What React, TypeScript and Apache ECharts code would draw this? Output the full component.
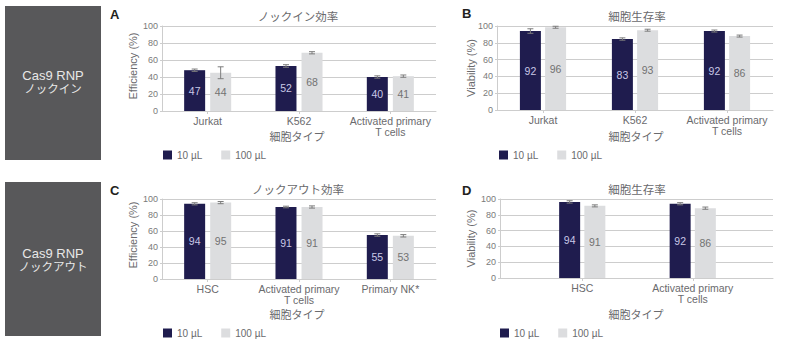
import React, { useEffect, useRef } from "react";
import * as echarts from "echarts";

const FONT = '"Liberation Sans", "Noto Sans CJK JP", sans-serif';

// Panel A: knock-in efficiency
const catsA = ["Jurkat", "K562", "Activated primary\nT cells"];
const meanA10 = [48, 53, 40];
const meanA100 = [45, 68.5, 41];
const labelA10 = [47, 52, 40];
const labelA100 = [44, 68, 41];
const errA10 = [0.4, 1.5, 0.4];
const errA100 = [7, 1.3, 0.4];

// Panel B: viability (knock-in)
const catsB = ["Jurkat", "K562", "Activated primary\nT cells"];
const meanB10 = [94, 84.5, 94];
const meanB100 = [98.5, 95, 88];
const labelB10 = [92, 83, 92];
const labelB100 = [96, 93, 86];
const errB10 = [2.7, 1.4, 0.6];
const errB100 = [0.6, 0.6, 0.6];

// Panel C: knock-out efficiency
const catsC = ["HSC", "Activated primary\nT cells", "Primary NK*"];
const meanC10 = [94, 90, 55];
const meanC100 = [95.5, 90, 54];
const labelC10 = [94, 91, 55];
const labelC100 = [95, 91, 53];
const errC10 = [0.5, 1, 1.5];
const errC100 = [0.5, 0.5, 1.5];

// Panel D: viability (knock-out)
const catsD = ["HSC", "Activated primary\nT cells"];
const meanD10 = [96.3, 94];
const meanD100 = [91.3, 88.4];
const labelD10 = [94, 92];
const labelD100 = [91, 86];
const errD10 = [0.4, 0.5];
const errD100 = [0.6, 0.5];

const SERIES_NAMES = ["10 µL", "100 µL"];
const DARK = "#1f1c4e";
const LIGHT = "#dcdddf";
const GRID_LINE = "#cdcdcd";
const TEXT = "#6a6a6d";
const BAR_W = 21;

function barSeries(name: string, idx: number, means: number[], labels: number[], color: string, labelColor: string, gap: string) {
  return {
    type: "bar",
    name,
    xAxisIndex: idx,
    yAxisIndex: idx,
    data: means,
    barWidth: BAR_W,
    barGap: gap,
    itemStyle: { color },
    label: {
      show: true,
      position: "inside",
      color: labelColor,
      fontSize: 10.5,
      fontFamily: FONT,
      formatter: (p: any) => String(labels[p.dataIndex]),
    },
    z: 2,
  };
}

function errSeries(idx: number, means: number[], errs: number[], side: number, gapPx: number) {
  const off = side * (BAR_W + gapPx) / 2;
  return {
    type: "custom",
    name: "err" + idx + "_" + side,
    xAxisIndex: idx,
    yAxisIndex: idx,
    data: means.map((m, i) => [i, m, errs[i]]),
    clip: false,
    z: 5,
    renderItem: (params: any, api: any) => {
      const cat = api.value(0);
      const m = api.value(1);
      const e = api.value(2);
      const top = api.coord([cat, m + e]);
      const bot = api.coord([cat, m - e]);
      const x = top[0] + off;
      const hw = 3;
      const st = { stroke: "#7d7d7d", lineWidth: 1 };
      const y1 = Math.min(top[1], bot[1] - 1.5);
      const y2 = Math.max(bot[1], top[1] + 1.5);
      return {
        type: "group",
        children: [
          { type: "line", shape: { x1: x, y1, x2: x, y2 }, style: st },
          { type: "line", shape: { x1: x - hw, y1, x2: x + hw, y2: y1 }, style: st },
          { type: "line", shape: { x1: x - hw, y1: y2, x2: x + hw, y2 }, style: st },
        ],
      };
    },
  };
}

function xAx(gridIndex: number, data: string[], showLabels = true) {
  return {
    type: "category",
    gridIndex,
    data,
    axisLine: { show: true, lineStyle: { color: GRID_LINE } },
    axisTick: { show: showLabels, alignWithLabel: true, length: 3, lineStyle: { color: GRID_LINE } },
    axisLabel: { show: showLabels, interval: 0, fontSize: 10.5, color: TEXT, margin: 4, lineHeight: 11.5, fontFamily: FONT },
  };
}

function yAx(gridIndex: number, show = true) {
  return {
    type: "value",
    gridIndex,
    min: 0,
    max: 100,
    interval: 20,
    show,
    axisLine: { show: true, lineStyle: { color: GRID_LINE } },
    axisTick: { show: true, length: 2, lineStyle: { color: GRID_LINE } },
    axisLabel: { fontSize: 9, color: "#7a7a7a", margin: 4, fontFamily: FONT },
    splitLine: { show: true, lineStyle: { color: GRID_LINE } },
  };
}

function txt(text: string, x: number, y: number, fontSize: number, color: string, extra: any = {}) {
  return {
    type: "text",
    x,
    y,
    silent: true,
    ...extra,
    style: {
      text,
      fontSize,
      fill: color,
      fontFamily: FONT,
      textAlign: "center",
      textVerticalAlign: "middle",
      ...(extra.style || {}),
    },
  };
}

function legend(left: number, top: number) {
  return {
    left,
    top,
    padding: 0,
    itemWidth: 9,
    itemHeight: 9,
    itemGap: 19,
    icon: "rect",
    data: SERIES_NAMES,
    textStyle: { fontSize: 10, color: TEXT, fontFamily: FONT, lineHeight: 12 },
  };
}

export default function App() {
  const ref = useRef<HTMLDivElement>(null);
  useEffect(() => {
    if (!ref.current) return;
    const chart = echarts.init(ref.current, undefined, { renderer: "svg" });
    const rot = Math.PI / 2;
    chart.setOption({
      animation: false,
      backgroundColor: "#ffffff",
      grid: [
        { left: 162, top: 26, width: 274, height: 85 },
        { left: 497, top: 26, width: 276, height: 84 },
        { left: 162, top: 199, width: 274, height: 80 },
        { left: 500, top: 199, width: 273, height: 79 },
        { left: 527, top: 199, width: 221, height: 79 },
      ],
      xAxis: [
        xAx(0, catsA),
        xAx(1, catsB),
        xAx(2, catsC),
        xAx(3, [""], false),
        xAx(4, catsD),
      ],
      yAxis: [yAx(0), yAx(1), yAx(2), yAx(3), yAx(4, false)],
      legend: [legend(163, 149), legend(499, 149), legend(163, 327), legend(500, 327)],
      series: [
        barSeries(SERIES_NAMES[0], 0, meanA10, labelA10, DARK, "#c9c8e6", "24%"),
        barSeries(SERIES_NAMES[1], 0, meanA100, labelA100, LIGHT, "#727272", "24%"),
        errSeries(0, meanA10, errA10, -1, 5),
        errSeries(0, meanA100, errA100, 1, 5),
        barSeries(SERIES_NAMES[0], 1, meanB10, labelB10, DARK, "#c9c8e6", "20%"),
        barSeries(SERIES_NAMES[1], 1, meanB100, labelB100, LIGHT, "#727272", "20%"),
        errSeries(1, meanB10, errB10, -1, 4.2),
        errSeries(1, meanB100, errB100, 1, 4.2),
        barSeries(SERIES_NAMES[0], 2, meanC10, labelC10, DARK, "#c9c8e6", "24%"),
        barSeries(SERIES_NAMES[1], 2, meanC100, labelC100, LIGHT, "#727272", "24%"),
        errSeries(2, meanC10, errC10, -1, 5),
        errSeries(2, meanC100, errC100, 1, 5),
        barSeries(SERIES_NAMES[0], 4, meanD10, labelD10, DARK, "#c9c8e6", "20%"),
        barSeries(SERIES_NAMES[1], 4, meanD100, labelD100, LIGHT, "#727272", "20%"),
        errSeries(4, meanD10, errD10, -1, 4.2),
        errSeries(4, meanD100, errD100, 1, 4.2),
      ],
      graphic: [
        { type: "rect", shape: { x: 5, y: 6, width: 96, height: 154 }, style: { fill: "#58585a" }, silent: true },
        { type: "rect", shape: { x: 5, y: 182, width: 96, height: 154 }, style: { fill: "#58585a" }, silent: true },
        txt("Cas9 RNP", 53, 75.5, 13, "#e8e8e8"),
        txt("ノックイン", 53, 88.5, 11.5, "#e8e8e8"),
        txt("Cas9 RNP", 53, 253.5, 13, "#e8e8e8"),
        txt("ノックアウト", 53, 266.5, 11.5, "#e8e8e8"),
        txt("A", 110, 14, 13, "#231f20", { style: { textAlign: "left", fontWeight: "bold" } }),
        txt("B", 462, 13.5, 13, "#231f20", { style: { textAlign: "left", fontWeight: "bold" } }),
        txt("C", 110, 190, 13, "#231f20", { style: { textAlign: "left", fontWeight: "bold" } }),
        txt("D", 462, 190, 13, "#231f20", { style: { textAlign: "left", fontWeight: "bold" } }),
        txt("ノックイン効率", 298, 17, 11.5, TEXT),
        txt("細胞生存率", 637, 17, 11.5, TEXT),
        txt("ノックアウト効率", 298, 190, 11.5, TEXT),
        txt("細胞生存率", 637, 190, 11.5, TEXT),
        txt("細胞タイプ", 297, 137, 11, TEXT),
        txt("細胞タイプ", 636, 137, 11, TEXT),
        txt("細胞タイプ", 297, 315, 11, TEXT),
        txt("細胞タイプ", 636, 315, 11, TEXT),
        txt("Efficiency (%)", 133, 66, 11, TEXT, { rotation: rot }),
        txt("Viability (%)", 471, 68, 11, TEXT, { rotation: rot }),
        txt("Efficiency (%)", 133, 235, 11, TEXT, { rotation: rot }),
        txt("Viability (%)", 471, 238.5, 11, TEXT, { rotation: rot }),
      ],
    });
    return () => chart.dispose();
  }, []);
  return (
    <div
      ref={ref}
      style={{ position: "fixed", left: 0, top: 0, width: 793, height: 343, background: "#fff" }}
    />
  );
}
